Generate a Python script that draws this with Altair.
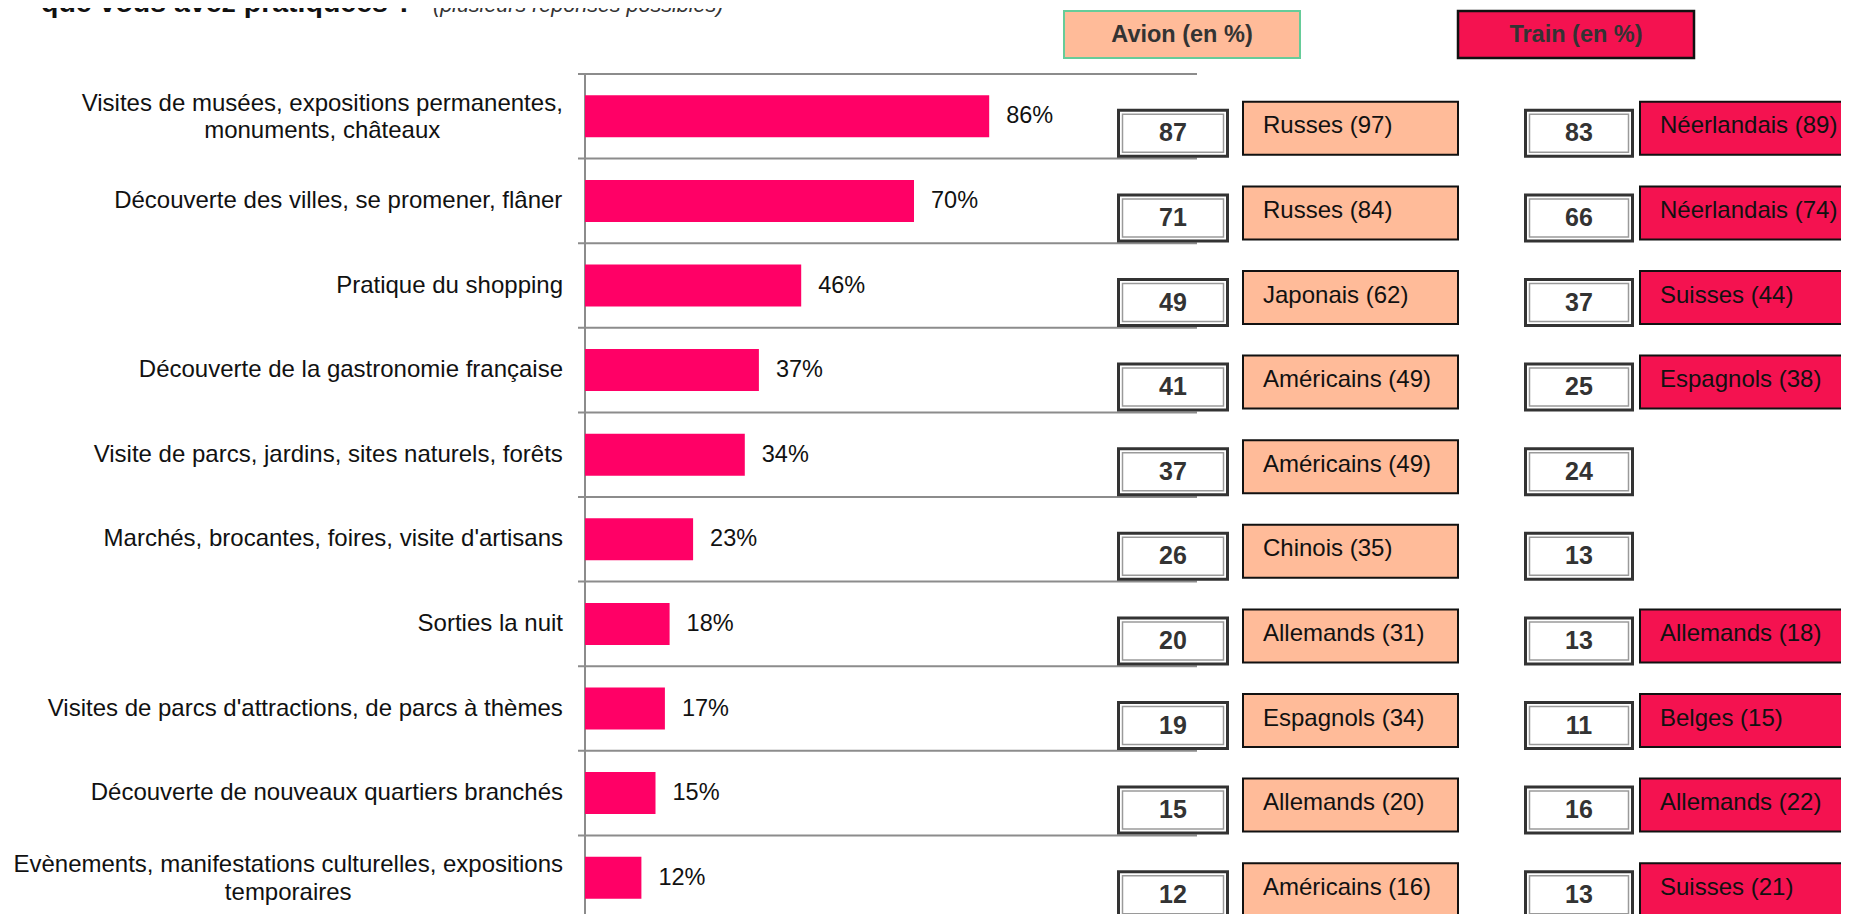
import altair as alt
import pandas as pd

# ---------------- data ----------------
title_main = "que vous avez pratiquées ?"
title_note = "(plusieurs réponses possibles)"

categories = [
    "Visites de musées, expositions permanentes,\nmonuments, châteaux",
    "Découverte des villes, se promener, flâner",
    "Pratique du shopping",
    "Découverte de la gastronomie française",
    "Visite de parcs, jardins, sites naturels, forêts",
    "Marchés, brocantes, foires, visite d'artisans",
    "Sorties la nuit",
    "Visites de parcs d'attractions, de parcs à thèmes",
    "Découverte de nouveaux quartiers branchés",
    "Evènements, manifestations culturelles, expositions\ntemporaires",
]
pct = [86, 70, 46, 37, 34, 23, 18, 17, 15, 12]

header_avion = "Avion (en %)"
avion_val = [87, 71, 49, 41, 37, 26, 20, 19, 15, 12]
avion_top = ["Russes (97)", "Russes (84)", "Japonais (62)", "Américains (49)",
             "Américains (49)", "Chinois (35)", "Allemands (31)", "Espagnols (34)",
             "Allemands (20)", "Américains (16)"]

header_train = "Train (en %)"
train_val = [83, 66, 37, 25, 24, 13, 13, 11, 16, 13]
train_top = ["Néerlandais (89)", "Néerlandais (74)", "Suisses (44)", "Espagnols (38)",
             "", "", "Allemands (18)", "Belges (15)", "Allemands (22)", "Suisses (21)"]

# ---------------- layout / style ----------------
FONT = "Liberation Sans, Arial, sans-serif"
N = len(categories)
ROW = 84.6          # px per row
X_MAX = 130         # % shown across the bar zone
X_PX = 611          # px of the bar zone
PX_PER_UNIT = X_PX / X_MAX
LABEL_SIZE = 24
LABEL_RIGHT = -22   # px, right edge of category labels

# Arial / Liberation Sans advance widths (1/1000 em) for centering multi-line labels
_W = {" ": 278, ",": 278, ".": 278, "'": 191, "-": 333, "(": 333, ")": 333, "%": 889,
      "a": 556, "b": 556, "c": 500, "d": 556, "e": 556, "f": 278, "g": 556, "h": 556,
      "i": 222, "j": 222, "k": 500, "l": 222, "m": 833, "n": 556, "o": 556, "p": 556,
      "q": 556, "r": 333, "s": 500, "t": 278, "u": 556, "v": 500, "w": 722, "x": 500,
      "y": 500, "z": 500, "é": 556, "è": 556, "ê": 556, "â": 556, "à": 556, "ç": 500,
      "ô": 556, "E": 667, "V": 667, "D": 722, "P": 667, "M": 833, "S": 667}


def text_w(s, size):
    return sum(_W.get(ch, 556) for ch in s) * size / 1000.0


df = pd.DataFrame({"cat": categories, "pct": pct, "av": avion_val, "avn": avion_top,
                   "tv": train_val, "tn": train_top})
df["c"] = [i + 0.5 for i in range(N)]
df["zero"] = 0
df["lbl"] = df["pct"].astype(str) + "%"
df["nl"] = [s.count("\n") + 1 for s in categories]
df["lx"] = [(LABEL_RIGHT - max(text_w(l, LABEL_SIZE) for l in s.split("\n")) / 2) / PX_PER_UNIT
            for s in categories]
df_single = df[df["nl"] == 1].copy()
df_multi = df[df["nl"] > 1].copy()
df_train = df[df["tn"] != ""].copy()
grid_df = pd.DataFrame({"k": list(range(N + 1))})
axis_df = pd.DataFrame({"y0": [0], "y1": [N]})
one = pd.DataFrame({"a": [0]})

ys = alt.Scale(domain=[0, N], range=[0, N * ROW])
xs = alt.Scale(domain=[0, X_MAX], range=[0, X_PX])


def Y(field="c:Q"):
    return alt.Y(field, scale=ys, axis=None)


# ---------------- layers ----------------
grid = alt.Chart(grid_df).mark_rule(color="#8c8c8c", strokeWidth=2).encode(
    y=Y("k:Q"), x=alt.value(-7), x2=alt.value(X_PX + 1))

axis_line = alt.Chart(axis_df).mark_rule(color="#8c8c8c", strokeWidth=2).encode(
    x=alt.value(0), y=Y("y0:Q"), y2="y1:Q")

base = alt.Chart(df)

bars = base.mark_rect(color="#FF0066", yOffset=-21, y2Offset=21).encode(
    x=alt.X("pct:Q", scale=xs, axis=None), x2="zero:Q", y=Y(), y2="c:Q")

values = base.mark_text(align="left", baseline="middle", dx=17, fontSize=23.5,
                        font=FONT, color="#111111").encode(
    x=alt.X("pct:Q", scale=xs, axis=None), y=Y(), text="lbl:N")

labels1 = alt.Chart(df_single).mark_text(
    align="center", baseline="middle", fontSize=LABEL_SIZE, font=FONT, color="#111111").encode(
    x=alt.X("lx:Q", scale=xs, axis=None), y=Y(), text="cat:N")
labels2 = alt.Chart(df_multi).mark_text(
    align="center", baseline="middle", lineBreak="\n", lineHeight=27.5, dy=-12.5,
    fontSize=LABEL_SIZE, font=FONT, color="#111111").encode(
    x=alt.X("lx:Q", scale=xs, axis=None), y=Y(), text="cat:N")

# title (cut at top like the reference)
title1 = alt.Chart(one).mark_text(align="left", baseline="alphabetic", fontSize=28.5,
                                  fontWeight="bold", font=FONT, color="#111111",
                                  text=title_main).encode(
    x=alt.value(-544), y=alt.value(-62))
title2 = alt.Chart(one).mark_text(align="left", baseline="alphabetic", fontSize=21.5,
                                  fontStyle="italic", font=FONT, color="#333333",
                                  text=title_note).encode(
    x=alt.value(-152), y=alt.value(-62))

# column headers
hdr_av_box = alt.Chart(one).mark_rect(fill="#FFBB99", stroke="#66CC99", strokeWidth=2).encode(
    x=alt.value(479), x2=alt.value(715), y=alt.value(-63), y2=alt.value(-16))
hdr_av_txt = alt.Chart(one).mark_text(fontSize=23.5, fontWeight="bold", font=FONT,
                                      color="#333333", baseline="middle",
                                      text=header_avion).encode(
    x=alt.value(597), y=alt.value(-39.5))
hdr_tr_box = alt.Chart(one).mark_rect(fill="#F41250", stroke="#111111", strokeWidth=2.5).encode(
    x=alt.value(873), x2=alt.value(1109), y=alt.value(-63), y2=alt.value(-16))
hdr_tr_txt = alt.Chart(one).mark_text(fontSize=23.5, fontWeight="bold", font=FONT,
                                      color="#333333", baseline="middle",
                                      text=header_train).encode(
    x=alt.value(991), y=alt.value(-39.5))


def number_box(data, field, x1, x2):
    outer = alt.Chart(data).mark_rect(fill="white", stroke="#333333", strokeWidth=3,
                                      yOffset=17 - 23, y2Offset=17 + 23).encode(
        x=alt.value(x1 + 1.5), x2=alt.value(x2 - 1.5), y=Y(), y2="c:Q")
    inner = alt.Chart(data).mark_rect(fill="white", stroke="#9a9a9a", strokeWidth=1.5,
                                      yOffset=17 - 19, y2Offset=17 + 19).encode(
        x=alt.value(x1 + 5.5), x2=alt.value(x2 - 5.5), y=Y(), y2="c:Q")
    txt = alt.Chart(data).mark_text(fontSize=25, fontWeight="bold", font=FONT, color="#333333",
                                    baseline="middle", dy=17).encode(
        x=alt.value((x1 + x2) / 2), y=Y(), text=f"{field}:N")
    return [outer, inner, txt]


def name_box(data, field, x1, x2, fill):
    box = alt.Chart(data).mark_rect(fill=fill, stroke="#111111", strokeWidth=2,
                                    yOffset=12 - 26.5, y2Offset=12 + 26.5).encode(
        x=alt.value(x1 + 1), x2=alt.value(x2 - 1), y=Y(), y2="c:Q")
    txt = alt.Chart(data).mark_text(align="left", baseline="middle", fontSize=24, font=FONT,
                                    color="#111111", dy=10).encode(
        x=alt.value(x1 + 21), y=Y(), text=f"{field}:N")
    return [box, txt]


layers = [grid, axis_line, bars, values, labels1, labels2, title1, title2,
          hdr_av_box, hdr_av_txt, hdr_tr_box, hdr_tr_txt]
layers += number_box(df, "av", 532, 644)
layers += name_box(df, "avn", 657, 874, "#FFBB99")
layers += number_box(df, "tv", 939, 1049)
layers += name_box(df_train, "tn", 1054, 1320, "#F41250")

chart = alt.layer(*layers).properties(
    width=1256, height=840,
    autosize=alt.AutoSizeParams(type="none"),
    padding={"left": 577, "top": 66, "right": 0, "bottom": 0},
).configure_view(strokeWidth=0)

chart.save("out.html", embed_options={"renderer": "svg", "actions": False})
